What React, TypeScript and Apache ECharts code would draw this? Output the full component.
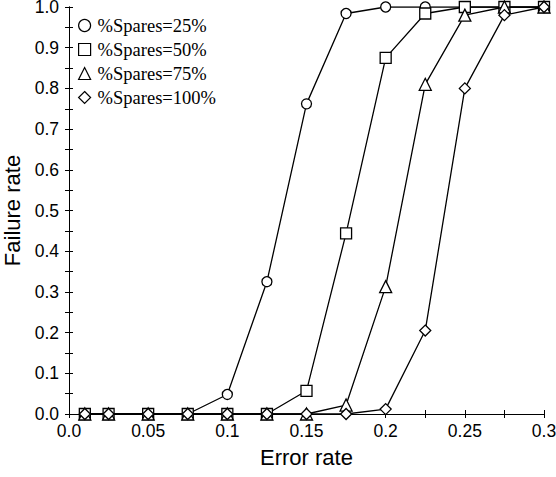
import React, { useEffect, useRef } from "react";
import * as echarts from "echarts";

const errorRates = [0.01, 0.025, 0.05, 0.075, 0.1, 0.125, 0.15, 0.175, 0.2, 0.225, 0.25, 0.275, 0.3];
const spares25 = [0, 0, 0, 0, 0.048, 0.325, 0.762, 0.984, 1, 1, 1, 1, 1];
const spares50 = [0, 0, 0, 0, 0, 0, 0.057, 0.444, 0.875, 0.984, 1, 1, 1];
const spares75 = [0, 0, 0, 0, 0, 0, 0, 0.022, 0.313, 0.81, 0.98, 1, 1];
const spares100 = [0, 0, 0, 0, 0, 0, 0, 0, 0.012, 0.205, 0.8, 0.98, 1];
const seriesNames = ["%Spares=25%", "%Spares=50%", "%Spares=75%", "%Spares=100%"];
const seriesSymbols = ["circle", "rect", "triangle", "diamond"];
const seriesValues = [spares25, spares50, spares75, spares100];

const SANS = "'Liberation Sans', Arial, sans-serif";
const SERIF = "'Liberation Serif', 'Times New Roman', serif";

export default function App() {
  const ref = useRef<HTMLDivElement>(null);
  useEffect(() => {
    if (!ref.current) return;
    const chart = echarts.init(ref.current, null, { renderer: "svg" });
    const symbolSizes = [10, 11, 12, 11];
    const axisCommon = {
      type: "value" as const,
      axisLine: { show: true, lineStyle: { color: "#000", width: 1 } },
      axisTick: { show: true, inside: true, length: 4, lineStyle: { color: "#000" } },
      splitLine: { show: false },
    };
    const xFmt = (v: number) => {
      const k = Math.round(v / 0.025);
      if (k % 2 !== 0) return "";
      return v === 0 ? "0.0" : String(Math.round(v * 1000) / 1000);
    };
    const yFmt = (v: number) => {
      const k = Math.round(v / 0.05);
      if (k % 2 !== 0) return "";
      return v.toFixed(1);
    };
    chart.setOption({
      animation: false,
      backgroundColor: "#fff",
      grid: {
        left: 69,
        right: 12,
        top: 7,
        bottom: 63,
        containLabel: false,
        outerBoundsMode: "none",
      },
      legend: {
        left: 73,
        top: 11,
        orient: "vertical",
        itemWidth: 12,
        itemHeight: 12,
        itemGap: 5,
        textStyle: { fontFamily: SERIF, fontSize: 18.5, color: "#000", padding: [0, 0, 0, 2] },
        data: seriesNames.map((n, i) => ({
          name: n,
          icon: seriesSymbols[i],
          itemStyle: { color: "#fff", borderColor: "#000", borderWidth: 1.2 },
        })),
      },
      xAxis: [
        {
          ...axisCommon,
          position: "bottom",
          min: 0,
          max: 0.3,
          interval: 0.025,
          name: "Error rate",
          nameLocation: "middle",
          nameGap: 32,
          nameTextStyle: { fontFamily: SANS, fontSize: 22, color: "#000" },
          axisLabel: {
            fontFamily: SANS,
            fontSize: 17.5,
            color: "#000",
            margin: 8,
            showMinLabel: true,
            showMaxLabel: true,
            hideOverlap: false,
            formatter: xFmt,
          },
        },
        {
          ...axisCommon,
          position: "top",
          min: 0,
          max: 0.3,
          interval: 0.025,
          axisLabel: { show: false },
        },
      ],
      yAxis: [
        {
          ...axisCommon,
          position: "left",
          min: 0,
          max: 1,
          interval: 0.05,
          name: "Failure rate",
          nameLocation: "middle",
          nameGap: 44,
          nameTextStyle: { fontFamily: SANS, fontSize: 22, color: "#000" },
          axisLabel: {
            fontFamily: SANS,
            fontSize: 17.5,
            color: "#000",
            margin: 10,
            hideOverlap: false,
            formatter: yFmt,
          },
        },
        {
          ...axisCommon,
          position: "right",
          min: 0,
          max: 1,
          interval: 0.05,
          axisLabel: { show: false },
        },
      ],
      series: seriesValues.map((vals, i) => ({
        name: seriesNames[i],
        type: "line",
        xAxisIndex: 0,
        yAxisIndex: 0,
        data: errorRates.map((x, j) => [x, vals[j]]),
        symbol: seriesSymbols[i],
        symbolSize: symbolSizes[i],
        showAllSymbol: true,
        lineStyle: { color: "#000", width: 1.3 },
        itemStyle: { color: "#fff", borderColor: "#000", borderWidth: 1.3 },
        emphasis: { disabled: true },
        z: 2 + i,
      })),
    });
    return () => chart.dispose();
  }, []);
  return (
    <div
      ref={ref}
      style={{ position: "fixed", left: 0, top: 0, width: 556, height: 477 }}
    />
  );
}
